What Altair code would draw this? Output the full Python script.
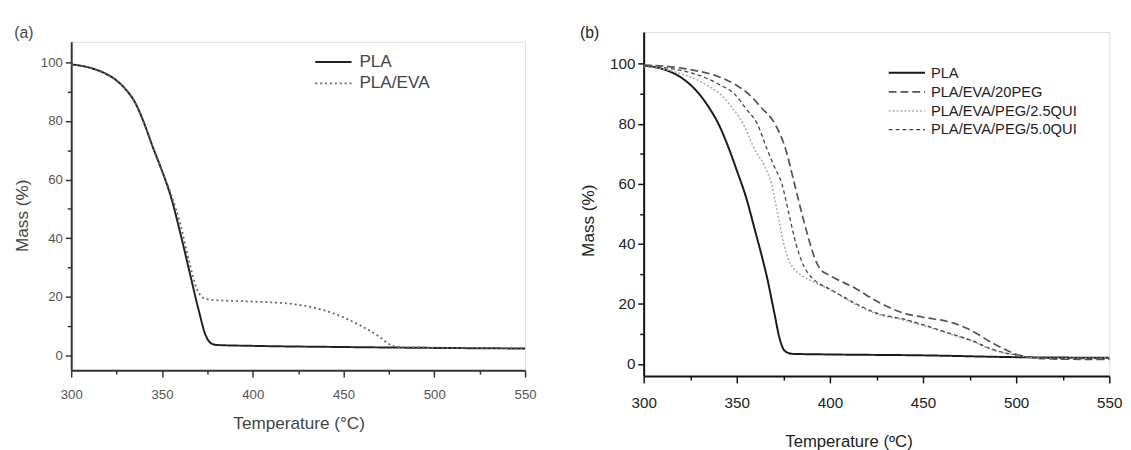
import altair as alt
import pandas as pd

# ---------------- panel (a) data ----------------
a_pla_t = [300, 310, 320, 325, 330, 335, 340, 345, 350, 355, 360, 365, 370, 374, 377, 380, 400, 450, 500, 550]
a_pla_m = [99.3, 98.2, 95.8, 93.8, 90.8, 86.5, 79.5, 71, 63, 54, 42, 29, 16, 7, 4.2, 3.6, 3.3, 2.9, 2.6, 2.4]
a_eva_t = [300, 310, 320, 325, 330, 335, 340, 345, 350, 355, 360, 365, 369, 372, 375, 380, 400, 420, 430, 440, 450, 460, 470, 476, 480, 500, 550]
a_eva_m = [99.3, 98.2, 95.8, 93.8, 90.8, 86.5, 79.5, 71, 63, 55, 45, 32, 23, 20, 19.2, 18.9, 18.4, 17.7, 16.8, 15.3, 13.0, 10, 6.3, 3.6, 2.9, 2.7, 2.5]

# ---------------- panel (b) data ----------------
b_pla_t = [300, 310, 320, 330, 335, 340, 345, 350, 355, 360, 363, 366, 370, 373, 375, 377, 380, 400, 450, 500, 550]
b_pla_m = [99.4, 98.3, 95.5, 89.8, 85.5, 80.2, 73, 64.5, 55.5, 44, 37, 29.5, 17.5, 8.5, 5, 3.9, 3.4, 3.2, 2.9, 2.3, 2.1]
b_peg_t = [300, 310, 320, 330, 340, 350, 356.3, 363, 370.5, 376, 381, 385, 389.4, 392, 395, 400, 414, 425, 440, 450, 466, 475, 487, 495, 501, 510, 520, 535, 550]
b_peg_m = [99.6, 99.3, 98.6, 97.5, 95.8, 92.8, 90, 85.5, 80, 72, 60, 50, 40, 35, 31.5, 29.5, 25.1, 21, 16.9, 15.6, 13.7, 11.5, 7.1, 4.6, 3.0, 2.0, 1.7, 1.6, 1.6]
b_q25_t = [300, 310, 320, 330, 335, 341, 348, 353.4, 360, 365, 368.6, 372, 375.2, 378, 381, 385, 391, 400, 414, 425, 440, 450, 466, 475, 487, 495, 501, 510, 530, 550]
b_q25_m = [99.1, 98.3, 96.7, 94.3, 92.5, 90, 85, 80, 71, 66, 60, 50, 40, 34.5, 31.5, 29.5, 27.4, 24.7, 19.8, 16.7, 14.6, 12.8, 9.7, 7.9, 4.8, 3.5, 2.9, 2.0, 1.9, 2.0]
b_q50_t = [300, 310, 320, 334.5, 341, 348.7, 355, 361, 366, 370, 374.2, 378, 381.8, 385, 388, 392, 400, 414, 425, 440, 450, 466, 475, 487, 495, 501, 510, 530, 550]
b_q50_m = [99.4, 98.8, 97.8, 95, 93, 90, 85, 80, 72, 66, 60, 50, 40, 34, 30.5, 27.8, 25.0, 20.1, 17.0, 14.9, 13.1, 9.9, 8.1, 5.0, 3.6, 3.0, 2.0, 1.8, 1.8]

a_series = ["PLA", "PLA/EVA"]
b_series = ["PLA", "PLA/EVA/20PEG", "PLA/EVA/PEG/2.5QUI", "PLA/EVA/PEG/5.0QUI"]

x_ticks = list(range(300, 551, 25))
y_ticks = list(range(0, 101, 10))

FONT = "Liberation Sans"


def frame(pairs, names):
    rows = []
    for (t, m), n in zip(pairs, names):
        for i, (tt, mm) in enumerate(zip(t, m)):
            rows.append({"T": tt, "M": mm, "series": n, "i": i})
    return pd.DataFrame(rows)


df_a = frame([(a_pla_t, a_pla_m), (a_eva_t, a_eva_m)], a_series)
df_b = frame([(b_pla_t, b_pla_m), (b_peg_t, b_peg_m), (b_q25_t, b_q25_m), (b_q50_t, b_q50_m)], b_series)


def panel(df, names, colors, dashes, widths, ydom, w, h, lab_size, lab_color, tit_color,
          dom_color, xtitle, xtitle_size, leg_x, leg_y, leg_font, leg_off, leg_rowpad,
          ytitle_y, ytitle_pad, xtitle_x, xtitle_pad, xlab_pad, title=None):
    major_x = "datum.value % 50 === 0"
    major_y = "datum.value % 20 === 0"
    xaxis = alt.Axis(
        values=x_ticks, labelExpr=f"{major_x} ? datum.label : ''", labelFlush=False,
        tickSize={"condition": {"test": major_x, "value": 7}, "value": 4},
        tickColor=dom_color, tickWidth=1.5, domainColor=dom_color, domainWidth=2,
        labelFont=FONT, labelFontSize=lab_size, labelColor=lab_color, labelPadding=xlab_pad,
        title=xtitle, titleFont=FONT, titleFontSize=xtitle_size, titleFontWeight="normal",
        titleColor=tit_color, titlePadding=xtitle_pad, titleX=xtitle_x, grid=False,
    )
    yaxis = alt.Axis(
        values=y_ticks, labelExpr=f"{major_y} ? datum.label : ''", labelFlush=False,
        tickSize={"condition": {"test": major_y, "value": 6}, "value": 4},
        tickColor=dom_color, tickWidth=1.5, domainColor=dom_color, domainWidth=2,
        labelFont=FONT, labelFontSize=lab_size, labelColor=lab_color, labelPadding=3,
        title="Mass (%)", titleFont=FONT, titleFontSize=17.5, titleFontWeight="normal",
        titleColor=tit_color, titlePadding=ytitle_pad, titleY=ytitle_y, grid=False,
    )
    legend = alt.Legend(
        orient="none", legendX=leg_x, legendY=leg_y, title=None, symbolType="M-2,0H2",
        symbolSize=342, symbolStrokeWidth=1.6, labelFont=FONT, labelFontSize=leg_font,
        labelColor=tit_color, labelOffset=leg_off, padding=0, rowPadding=leg_rowpad,
        labelLimit=400,
    )
    ch = alt.Chart(df).mark_line(interpolate="monotone").encode(
        x=alt.X("T:Q", scale=alt.Scale(domain=[300, 550], nice=False, zero=False), axis=xaxis),
        y=alt.Y("M:Q", scale=alt.Scale(domain=ydom, nice=False, zero=False), axis=yaxis),
        color=alt.Color("series:N", scale=alt.Scale(domain=names, range=colors), legend=legend, sort=names),
        strokeDash=alt.StrokeDash("series:N", scale=alt.Scale(domain=names, range=dashes), legend=legend, sort=names),
        strokeWidth=alt.StrokeWidth("series:N", scale=alt.Scale(domain=names, range=widths), legend=None),
        order="i:Q",
    ).properties(width=w, height=h)
    if title is not None:
        ch = ch.properties(title=title)
    return ch


pa = panel(df_a, a_series, ["#222222", "#666666"], [[1, 0], [2, 3]], [2.0, 1.8],
           [-5, 107], 463, 335, 13.5, "#555555", "#444444", "#333333", "Temperature (°C)", 17.5,
           257, 20, 17.5, 16, 3, 177, 9.5, 232, 14, 11)

title_b = alt.TitleParams("(b)", anchor="start", frame="bounds", offset=-9,
                          font=FONT, fontSize=16, fontWeight="normal", color="#222222")
pb = panel(df_b, b_series, ["#1a1a1a", "#555555", "#aaaaaa", "#444444"],
           [[1, 0], [8, 4], [2, 2], [4, 3]], [2.0, 1.3, 1.2, 1.3],
           [-4, 110.6], 475, 351, 15.5, "#222222", "#222222", "#111111", "Temperature (ºC)", 17,
           258, 31, 15, 14, 0.5, 192, 12, 209, 23, 13, title=title_b)

# empty strip above panel (a) that carries its "(a)" label
spacer = alt.Chart(pd.DataFrame({"v": [0]})).mark_point(opacity=0).properties(
    width=463, height=8,
    title=alt.TitleParams("(a)", anchor="start", frame="group", offset=-9, dx=-58,
                          font=FONT, fontSize=16, fontWeight="normal", color="#444444"),
)

left = alt.vconcat(spacer, pa, spacing=0)

chart = alt.hconcat(left, pb, spacing=43).resolve_scale(
    color="independent", strokeDash="independent", strokeWidth="independent",
    x="independent", y="independent",
).resolve_legend(color="independent", strokeDash="independent").properties(
    padding={"left": 4.5, "top": 12, "right": 0, "bottom": 0}
).configure_view(stroke=None).configure(background="white")

chart.save("out.html", embed_options={"renderer": "svg", "actions": False})
